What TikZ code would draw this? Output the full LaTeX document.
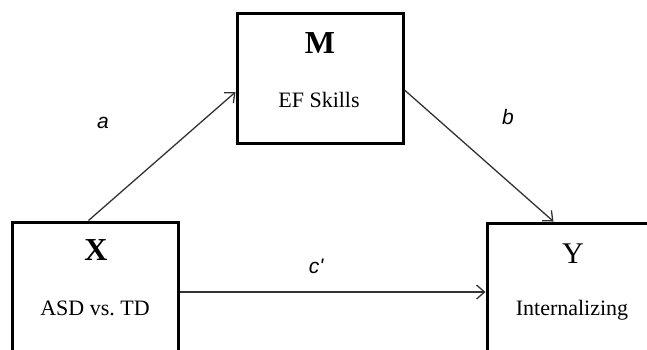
\documentclass[tikz,border=0pt]{standalone}
\usepackage{fontspec}
\setmainfont{Liberation Serif}
\newfontfamily\pathfont{Liberation Sans}
\usetikzlibrary{arrows.meta}
\tikzset{
  varbox/.style={draw=black, line width=3pt, rectangle, inner sep=0pt},
  bigletter/.style={font=\fontsize{32}{36}\selectfont, inner sep=0pt},
  sublabel/.style={font=\fontsize{22}{26}\selectfont, inner sep=0pt},
  pathlabel/.style={font=\pathfont\itshape\fontsize{21}{25}\selectfont, inner sep=0pt},
  patharrow/.style={draw=black!80, line width=1.3pt, -{Straight Barb[length=8pt,width=14pt,line width=1.3pt]}}
}
\begin{document}
\begin{tikzpicture}[x=1pt, y=-1pt]
  \useasboundingbox (0,0) rectangle (647,349);
  \clip (0,0) rectangle (647,349);
  \fill[white] (0,0) rectangle (647,349);

  % variable boxes
  \node[varbox, minimum width=166pt, minimum height=158pt] (X) at (95,301) {};
  \node[varbox, minimum width=166pt, minimum height=130pt] (M) at (320,78) {};
  \node[varbox, minimum width=183pt, minimum height=157pt] (Y) at (578.5,301.5) {};

  % box texts
  \node[bigletter, font=\bfseries\fontsize{32}{36}\selectfont] (Xl) at (96,250) {X};
  \node[sublabel] (Xs) at (95,308) {ASD vs.\ TD};
  \node[bigletter, font=\bfseries\fontsize{32}{36}\selectfont] (Ml) at (320,43) {M};
  \node[sublabel] (Ms) at (319,100) {EF Skills};
  \node[bigletter, font=\fontsize{30}{34}\selectfont] (Yl) at (573,254) {Y};
  \node[sublabel] (Ys) at (572,310) {Internalizing};

  % paths
  \draw[patharrow] ([xshift=78pt]X.north west) -- ([yshift=-14pt]M.west);
  \draw[patharrow] ([yshift=-12pt]M.east) -- ([xshift=68pt]Y.north west);
  \draw[patharrow] ([yshift=9pt]X.east) -- ([yshift=9.5pt]Y.west);

  % path labels
  \node[pathlabel] (la) at (103,123) {a};
  \node[pathlabel] (lb) at (508,117) {b};
  \node[pathlabel] (lc) at (316,266) {c\char39};
\end{tikzpicture}
\end{document}
